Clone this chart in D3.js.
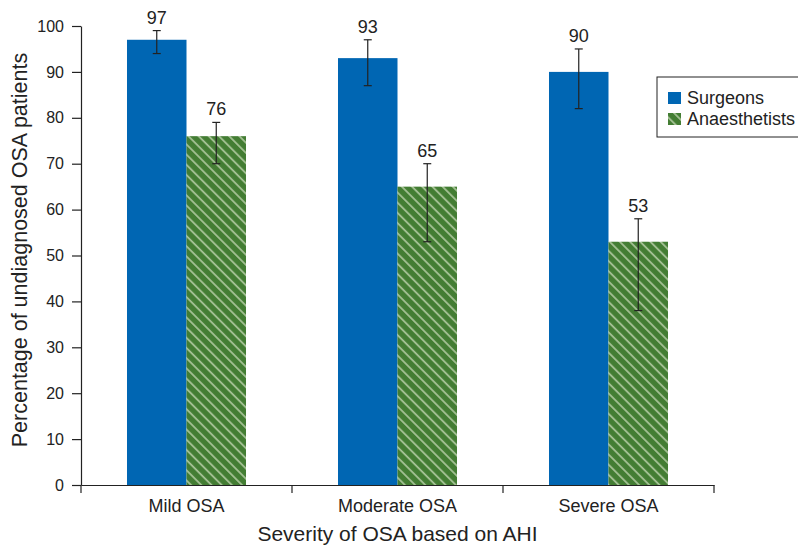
<!DOCTYPE html>
<html>
<head>
<meta charset="utf-8">
<script src="https://cdn.jsdelivr.net/npm/d3@7"></script>
<style>
  body { margin: 0; background: #fff; }
  svg { font-family: "Liberation Sans", Arial, sans-serif; }
</style>
</head>
<body>
<div id="chart"></div>
<script>
// data
const categories = ["Mild OSA", "Moderate OSA", "Severe OSA"];
const groups = ["Surgeons", "Anaesthetists"];
const surgeons = [97, 93, 90];
const anaesthetists = [76, 65, 53];
const surgeonsLow = [94, 87, 82];
const surgeonsHigh = [99, 97, 95];
const anaesLow = [70, 53, 38];
const anaesHigh = [79, 70, 58];
const yTicks = [0, 10, 20, 30, 40, 50, 60, 70, 80, 90, 100];

const width = 798;
const height = 546;
const margin = { top: 26, right: 84, bottom: 61, left: 81 };

const rows = [];
categories.forEach((c, i) => {
  rows.push({ cat: c, group: "Surgeons", value: surgeons[i], lo: surgeonsLow[i], hi: surgeonsHigh[i] });
  rows.push({ cat: c, group: "Anaesthetists", value: anaesthetists[i], lo: anaesLow[i], hi: anaesHigh[i] });
});

const svg = d3.select("#chart")
  .append("svg")
  .attr("width", width)
  .attr("height", height);

// hatch pattern for anaesthetists
const defs = svg.append("defs");
const pat = defs.append("pattern")
  .attr("id", "hatch")
  .attr("patternUnits", "userSpaceOnUse")
  .attr("width", 7.2)
  .attr("height", 7.2)
  .attr("patternTransform", "rotate(-45)");
pat.append("rect")
  .attr("width", 7.2)
  .attr("height", 7.2)
  .attr("fill", "#437d33");
pat.append("line")
  .attr("x1", 1).attr("y1", 0)
  .attr("x2", 1).attr("y2", 7.2)
  .attr("stroke", "#a6c296")
  .attr("stroke-width", 1.8);

const x = d3.scaleBand()
  .domain(categories)
  .range([margin.left, width - margin.right]);

const x1 = d3.scaleBand()
  .domain(groups)
  .range([0, x.bandwidth()])
  .paddingInner(0)
  .paddingOuter(0.773);

const y = d3.scaleLinear()
  .domain([0, 100])
  .range([height - margin.bottom, margin.top]);

const fill = d => d.group === "Surgeons" ? "#0066b3" : "url(#hatch)";

// bars
svg.append("g")
  .selectAll("rect")
  .data(rows)
  .join("rect")
  .attr("x", d => x(d.cat) + x1(d.group))
  .attr("y", d => y(d.value))
  .attr("width", x1.bandwidth())
  .attr("height", d => y(0) - y(d.value))
  .attr("fill", fill);

// error bars
const eb = svg.append("g")
  .attr("stroke", "#222")
  .attr("stroke-width", 1.2);
rows.forEach(d => {
  const cx = x(d.cat) + x1(d.group) + x1.bandwidth() / 2;
  eb.append("line").attr("x1", cx).attr("x2", cx).attr("y1", y(d.lo)).attr("y2", y(d.hi));
  eb.append("line").attr("x1", cx - 4).attr("x2", cx + 4).attr("y1", y(d.lo)).attr("y2", y(d.lo));
  eb.append("line").attr("x1", cx - 4).attr("x2", cx + 4).attr("y1", y(d.hi)).attr("y2", y(d.hi));
});

// value labels
svg.append("g")
  .selectAll("text")
  .data(rows)
  .join("text")
  .attr("x", d => x(d.cat) + x1(d.group) + x1.bandwidth() / 2)
  .attr("y", d => y(d.hi) - 7)
  .attr("text-anchor", "middle")
  .style("font-size", "18px")
  .attr("fill", "#222")
  .text(d => d.value);

// axes
const yAxis = svg.append("g")
  .attr("transform", `translate(${margin.left},0)`)
  .call(d3.axisLeft(y).tickValues(yTicks).tickSize(9).tickSizeOuter(0).tickPadding(8));

const xAxis = svg.append("g")
  .attr("transform", `translate(0,${height - margin.bottom})`)
  .call(d3.axisBottom(x).tickSize(0).tickPadding(14));

// boundary ticks between categories
const bounds = [0, 1, 2, 3].map(i => margin.left + i * x.bandwidth());
xAxis.selectAll(".bound")
  .data(bounds)
  .join("line")
  .attr("class", "bound")
  .attr("x1", d => d).attr("x2", d => d)
  .attr("y1", 0).attr("y2", 8)
  .attr("stroke", "#222");

[yAxis, xAxis].forEach(g => {
  g.selectAll("path, line").attr("stroke", "#222").attr("stroke-width", 1.2);
  g.selectAll("text").attr("fill", "#222").style("font-family", "Liberation Sans, Arial, sans-serif");
});
yAxis.selectAll("text").style("font-size", "16px");
xAxis.selectAll("text").style("font-size", "18px");

// axis titles
svg.append("text")
  .attr("x", (margin.left + width - margin.right) / 2)
  .attr("y", 541)
  .attr("text-anchor", "middle")
  .style("font-size", "21px")
  .attr("fill", "#222")
  .text("Severity of OSA based on AHI");

svg.append("text")
  .attr("transform", "translate(27,250) rotate(-90)")
  .attr("text-anchor", "middle")
  .style("font-size", "21.5px")
  .attr("fill", "#222")
  .text("Percentage of undiagnosed OSA patients");

// legend
const legend = svg.append("g").attr("transform", "translate(657,77)");
legend.append("rect")
  .attr("width", 150)
  .attr("height", 60)
  .attr("fill", "#fff")
  .attr("stroke", "#222")
  .attr("stroke-width", 1);
groups.forEach((gname, i) => {
  legend.append("rect")
    .attr("x", 11)
    .attr("y", 15 + i * 21)
    .attr("width", 13)
    .attr("height", 12)
    .attr("fill", gname === "Surgeons" ? "#0066b3" : "url(#hatch)");
  legend.append("text")
    .attr("x", 30)
    .attr("y", 27 + i * 21)
    .style("font-size", "18px")
    .attr("fill", "#222")
    .text(gname);
});
</script>
</body>
</html>
